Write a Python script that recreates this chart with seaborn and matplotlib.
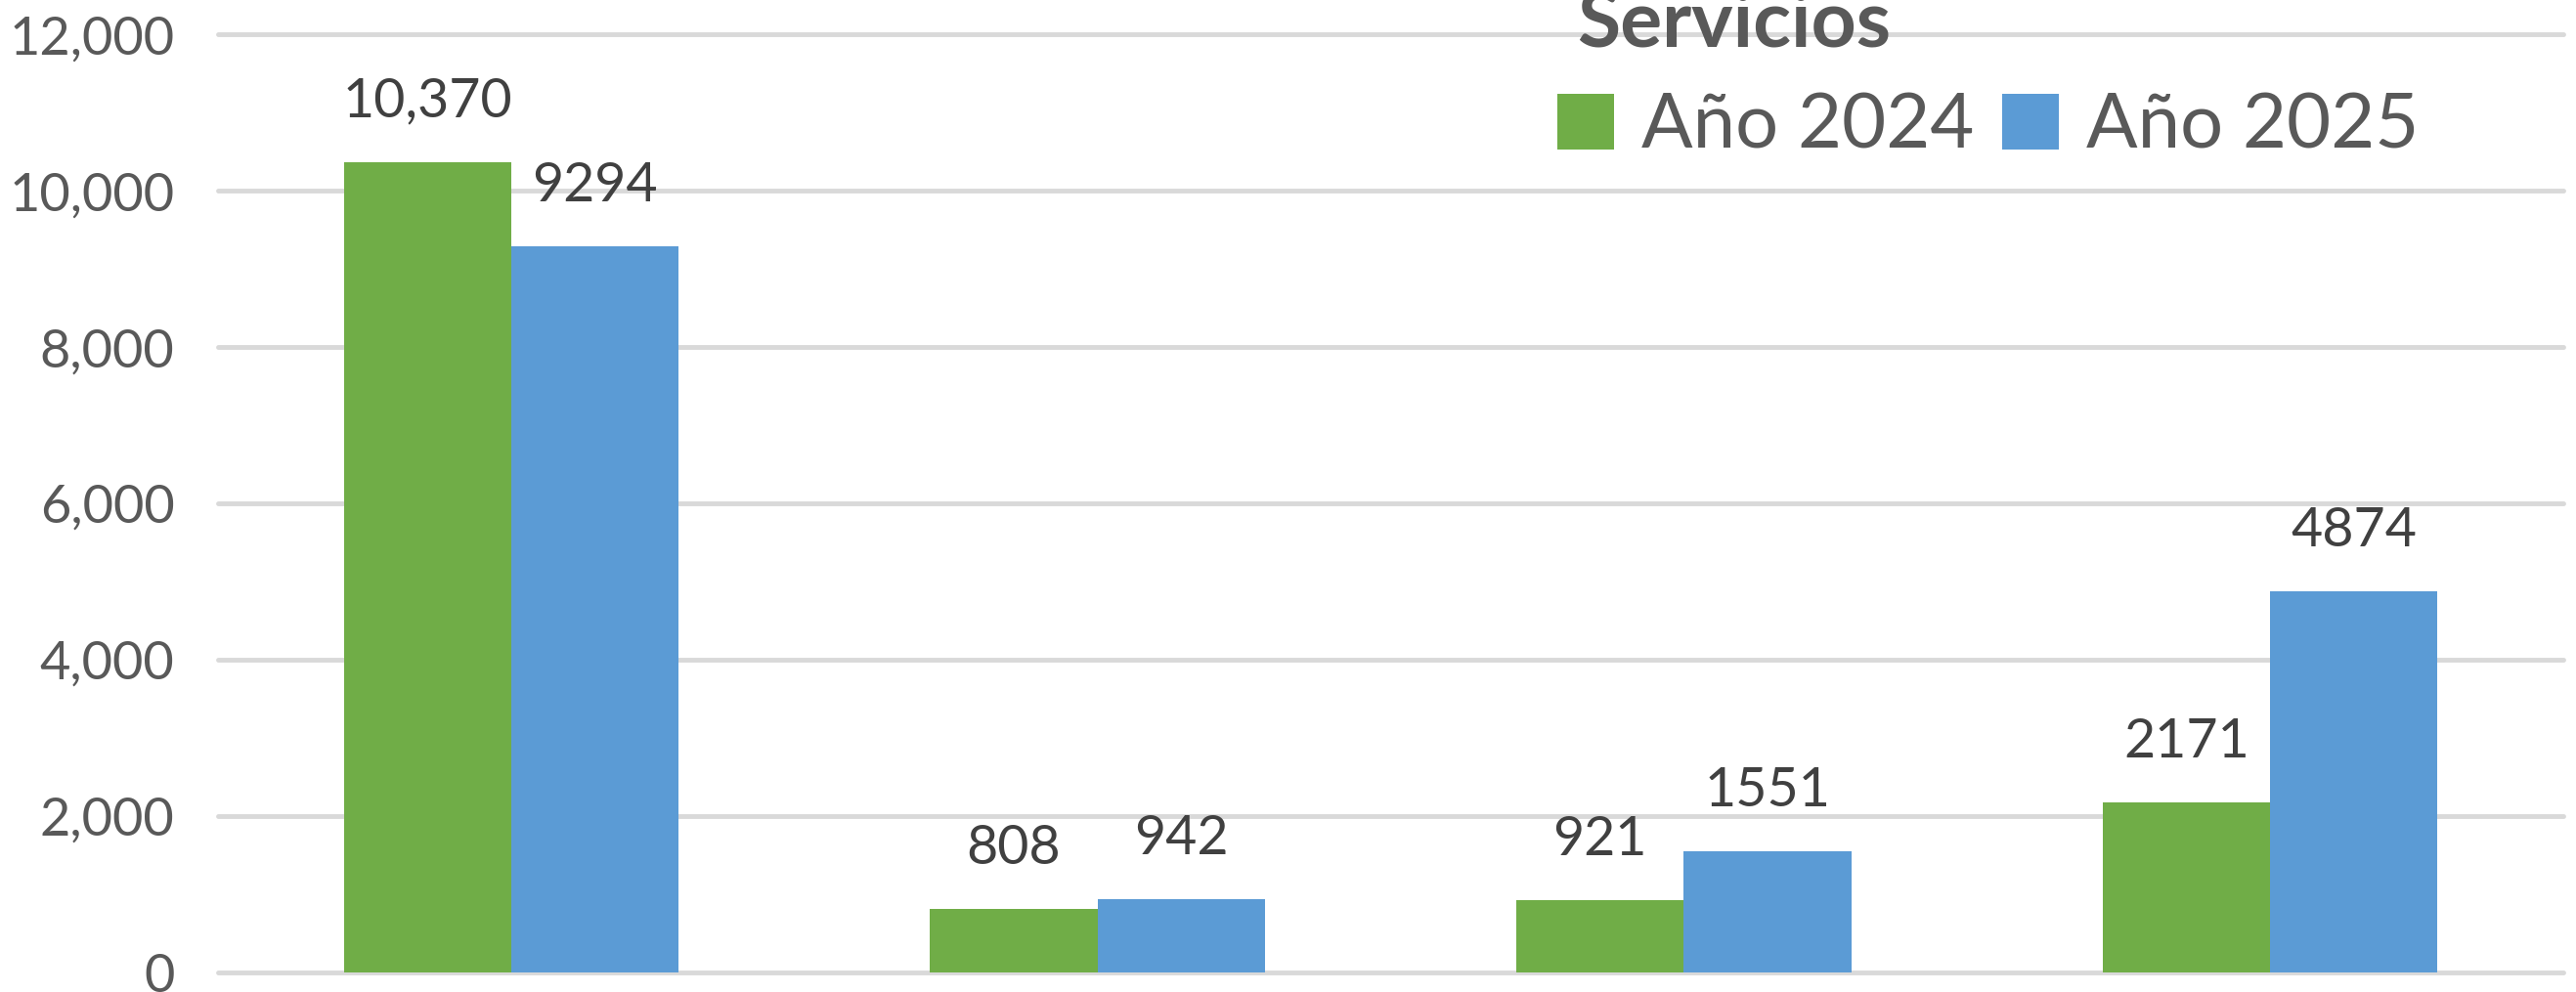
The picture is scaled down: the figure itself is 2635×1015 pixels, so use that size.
import pandas as pd
import numpy as np
import matplotlib
matplotlib.use('Agg')
import matplotlib.pyplot as plt
import seaborn as sns

# data
categories = ['Cat 1', 'Cat 2', 'Cat 3', 'Cat 4']
values_2024 = [10370, 808, 921, 2171]
values_2025 = [9294, 942, 1551, 4874]
# the reference formats only the first label with a thousands separator
labels_2024 = ['10,370', '808', '921', '2171']
labels_2025 = ['9294', '942', '1551', '4874']
series_names = ['Año 2024', 'Año 2025']
yticks = [0, 2000, 4000, 6000, 8000, 10000, 12000]

df = pd.DataFrame({
    'cat': categories * 2,
    'serie': [series_names[0]] * 4 + [series_names[1]] * 4,
    'valor': values_2024 + values_2025,
})

sns.set_theme(style='white')
plt.rcParams['font.family'] = ['Lato', 'DejaVu Sans']

fig = plt.figure(figsize=(26.35, 10.15), dpi=100)
ax = fig.add_axes([223 / 2635, 20 / 1015, (2622 - 223) / 2635, 995 / 1015])

sns.barplot(data=df, x='cat', y='valor', hue='serie', palette=['#70AD47', '#5B9BD5'],
            width=0.571, saturation=1, gap=0, linewidth=0, ax=ax, legend=True)

ax.set_ylim(0, 12440)
ax.set_xlim(-0.5, 3.5)
ax.set_yticks(yticks)
ax.set_yticklabels([f'{v:,}' for v in yticks])
ax.tick_params(axis='y', length=0, pad=32, labelsize=39, labelcolor='#595959')
ax.tick_params(axis='x', length=0, labelbottom=False)
ax.set_xlabel('')
ax.set_ylabel('')
for s in ax.spines.values():
    s.set_visible(False)
ax.yaxis.grid(True, color='#D9D9D9', linewidth=3.5)
ax.set_axisbelow(True)
for line in ax.get_ygridlines():
    line.set_clip_on(False)

ax.bar_label(ax.containers[0], labels=labels_2024, padding=26, fontsize=40, color='#404040')
ax.bar_label(ax.containers[1], labels=labels_2025, padding=26, fontsize=40, color='#404040')

handles, labels = ax.get_legend_handles_labels()
ax.get_legend().remove()
fig.legend(handles, labels, loc='center left', bbox_to_anchor=(1593 / 2635, 1 - 130 / 1015),
           ncol=2, frameon=False, fontsize=56, labelcolor='#595959', borderpad=0,
           borderaxespad=0, handlelength=0.75, handleheight=0.75, handletextpad=0.36,
           columnspacing=0.36)

fig.text(1613 / 2635, 1 - 47 / 1015, 'Servicios', fontsize=58, fontweight='bold',
         color='#595959', ha='left', va='baseline')

fig.savefig('out.png', dpi=100, facecolor='white')
